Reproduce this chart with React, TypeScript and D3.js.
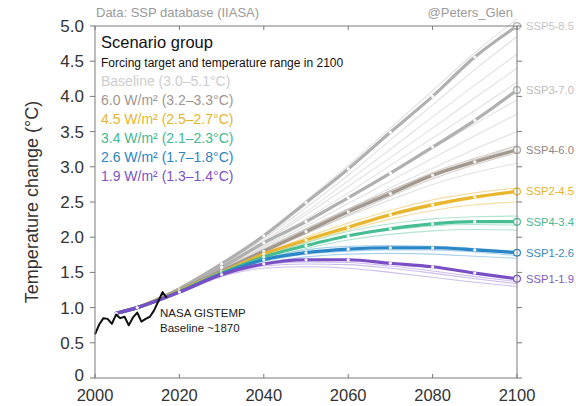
import * as d3 from "d3";

// model output years (decadal, plus start)
const years = [2005, 2010, 2020, 2030, 2040, 2050, 2060, 2070, 2080, 2090, 2100];

// marker scenarios (thick lines)
const ssp585 = [0.92, 1.0, 1.27, 1.62, 2.02, 2.49, 2.97, 3.49, 4.0, 4.56, 5.0];
const ssp370 = [0.92, 1.0, 1.26, 1.57, 1.92, 2.22, 2.56, 2.91, 3.28, 3.66, 4.09];
const ssp460 = [0.92, 1.0, 1.25, 1.52, 1.8, 2.08, 2.36, 2.62, 2.88, 3.07, 3.24];
const ssp245 = [0.92, 1.0, 1.24, 1.5, 1.76, 1.96, 2.14, 2.32, 2.46, 2.57, 2.65];
const ssp434 = [0.92, 1.0, 1.23, 1.49, 1.72, 1.88, 2.02, 2.12, 2.19, 2.22, 2.22];
const ssp126 = [0.92, 1.0, 1.22, 1.48, 1.68, 1.78, 1.83, 1.85, 1.85, 1.82, 1.78];
const ssp119 = [0.92, 1.0, 1.22, 1.47, 1.62, 1.68, 1.68, 1.63, 1.58, 1.49, 1.41];

// other runs in each group (thin lines)
const baselineRuns = [
  [0.92, 1.0, 1.28, 1.64, 2.04, 2.52, 3.02, 3.55, 4.08, 4.62, 5.1],
  [0.92, 1.0, 1.27, 1.61, 1.98, 2.42, 2.88, 3.38, 3.88, 4.38, 4.85],
  [0.92, 1.0, 1.27, 1.6, 1.95, 2.36, 2.8, 3.25, 3.71, 4.16, 4.6],
  [0.92, 1.0, 1.26, 1.59, 1.93, 2.32, 2.72, 3.13, 3.55, 3.98, 4.4],
  [0.92, 1.0, 1.26, 1.58, 1.9, 2.26, 2.63, 3.02, 3.41, 3.8, 4.2],
  [0.92, 1.0, 1.26, 1.57, 1.88, 2.2, 2.55, 2.9, 3.26, 3.61, 3.95],
  [0.92, 1.0, 1.25, 1.56, 1.86, 2.16, 2.48, 2.8, 3.12, 3.44, 3.75],
  [0.92, 1.0, 1.25, 1.55, 1.84, 2.12, 2.4, 2.7, 2.98, 3.25, 3.5],
  [0.92, 1.0, 1.25, 1.54, 1.82, 2.08, 2.35, 2.6, 2.86, 3.09, 3.3],
  [0.92, 1.0, 1.24, 1.53, 1.8, 2.05, 2.3, 2.53, 2.75, 2.92, 3.05],
];
const w60Runs = [
  [0.92, 1.0, 1.25, 1.53, 1.82, 2.1, 2.39, 2.66, 2.92, 3.12, 3.3],
  [0.92, 1.0, 1.24, 1.51, 1.78, 2.05, 2.32, 2.58, 2.83, 3.03, 3.2],
  [0.92, 1.0, 1.25, 1.54, 1.83, 2.12, 2.4, 2.66, 2.9, 3.1, 3.26],
];
const w45Runs = [
  [0.92, 1.0, 1.24, 1.5, 1.76, 2.0, 2.2, 2.38, 2.53, 2.63, 2.7],
  [0.92, 1.0, 1.23, 1.48, 1.72, 1.93, 2.1, 2.26, 2.38, 2.46, 2.5],
  [0.92, 1.0, 1.24, 1.51, 1.75, 1.97, 2.16, 2.34, 2.48, 2.58, 2.66],
];
const w34Runs = [
  [0.92, 1.0, 1.23, 1.49, 1.73, 1.92, 2.08, 2.19, 2.26, 2.29, 2.3],
  [0.92, 1.0, 1.22, 1.47, 1.68, 1.84, 1.96, 2.04, 2.09, 2.11, 2.1],
  [0.92, 1.0, 1.23, 1.5, 1.72, 1.88, 2.01, 2.1, 2.16, 2.18, 2.17],
];
const w26Runs = [
  [0.92, 1.0, 1.22, 1.47, 1.66, 1.76, 1.8, 1.82, 1.82, 1.79, 1.74],
  [0.92, 1.0, 1.23, 1.5, 1.7, 1.82, 1.87, 1.88, 1.87, 1.84, 1.8],
  [0.92, 1.0, 1.22, 1.46, 1.63, 1.72, 1.76, 1.77, 1.76, 1.73, 1.7],
];
const w19Runs = [
  [0.92, 1.0, 1.21, 1.44, 1.56, 1.58, 1.56, 1.5, 1.43, 1.36, 1.3],
  [0.92, 1.0, 1.22, 1.46, 1.61, 1.65, 1.64, 1.59, 1.52, 1.44, 1.37],
  [0.92, 1.0, 1.21, 1.45, 1.59, 1.62, 1.61, 1.56, 1.49, 1.41, 1.34],
];

// NASA GISTEMP, relative to ~1870
const obsYears = d3.range(2000, 2018);
const obsTemp = [0.62, 0.76, 0.85, 0.84, 0.77, 0.9, 0.85, 0.87, 0.75, 0.86, 0.93, 0.8, 0.84, 0.87, 0.96, 1.09, 1.22, 1.14];

const legendLabels = [
  "Baseline (3.0–5.1°C)",
  "6.0 W/m² (3.2–3.3°C)",
  "4.5 W/m² (2.5–2.7°C)",
  "3.4 W/m² (2.1–2.3°C)",
  "2.6 W/m² (1.7–1.8°C)",
  "1.9 W/m² (1.3–1.4°C)",
];
const legendColors = ["#cdcdcd", "#a0968e", "#e6b52e", "#45b88f", "#2d84c0", "#7b54c2"];

const markerNames = ["SSP5-8.5", "SSP3-7.0", "SSP4-6.0", "SSP2-4.5", "SSP4-3.4", "SSP1-2.6", "SSP1-1.9"];
const markerSeries = [ssp585, ssp370, ssp460, ssp245, ssp434, ssp126, ssp119];
const markerColors = ["#b0b0b0", "#b0b0b0", "#a2988f", "#e8b52c", "#47bd93", "#2a86c6", "#7a4ec4"];
const markerLabelColors = ["#c4c4c4", "#bcbcbc", "#8f877f", "#e3b22c", "#48b98f", "#3489c2", "#7d5bbf"];

const yTicks = [0, 0.5, 1, 1.5, 2, 2.5, 3, 3.5, 4, 4.5, 5];
const xTicks = [2000, 2020, 2040, 2060, 2080, 2100];

const font = "'Liberation Sans', Arial, Helvetica, sans-serif";

export default function App() {
  const W = 576;
  const H = 406;
  const x = d3.scaleLinear().domain([2000, 2100]).range([95, 517]);
  const y = d3.scaleLinear().domain([0, 5]).range([378, 26]);

  const line = d3
    .line<number>()
    .x((_, i) => x(years[i]))
    .y((d) => y(d))
    .curve(d3.curveMonotoneX);

  const obsLine = d3
    .line<number>()
    .x((_, i) => x(obsYears[i]))
    .y((d) => y(d));

  const thinGroups = [
    { runs: baselineRuns, color: "#c8c8c8", op: 0.55 },
    { runs: w60Runs, color: "#b9afa7", op: 0.6 },
    { runs: w45Runs, color: "#efcf7a", op: 0.7 },
    { runs: w34Runs, color: "#92d9bd", op: 0.7 },
    { runs: w26Runs, color: "#86bfe3", op: 0.7 },
    { runs: w19Runs, color: "#b9a3e2", op: 0.7 },
  ];

  const axisColor = "#7a7a7a";

  return (
    <svg
      width={W}
      height={H}
      style={{ position: "absolute", left: 0, top: 0, background: "#fff" }}
      fontFamily={font}
    >
      {/* header */}
      <text x={96} y={17} fontSize={13} fill="#9a9a9a">
        Data: SSP database (IIASA)
      </text>
      <text x={513} y={17} fontSize={13} fill="#9a9a9a" textAnchor="end">
        @Peters_Glen
      </text>

      {/* thin runs */}
      {thinGroups.map((g, gi) =>
        g.runs.map((r, ri) => (
          <path
            key={`t${gi}-${ri}`}
            d={line(r) || ""}
            fill="none"
            stroke={g.color}
            strokeWidth={1.1}
            strokeOpacity={g.op}
          />
        ))
      )}

      {/* marker scenarios */}
      {markerSeries.map((s, si) => (
        <g key={`m${si}`}>
          <path
            d={line(s) || ""}
            fill="none"
            stroke={markerColors[si]}
            strokeWidth={3.2}
            strokeLinecap="round"
          />
          {s.slice(0, -1).map((v, i) => (
            <circle key={i} cx={x(years[i])} cy={y(v)} r={1.6} fill="#fff" fillOpacity={0.95} />
          ))}
          <circle
            cx={x(2100)}
            cy={y(s[s.length - 1])}
            r={3.4}
            fill="#fff"
            stroke={markerColors[si]}
            strokeWidth={1.2}
          />
          <text
            x={526}
            y={y(s[s.length - 1])}
            dy="0.35em"
            fontSize={11.2}
            fill={markerLabelColors[si]}
          >
            {markerNames[si]}
          </text>
        </g>
      ))}

      {/* observations */}
      <path d={obsLine(obsTemp) || ""} fill="none" stroke="#111" strokeWidth={2} strokeLinejoin="round" />
      <text x={160} y={317} fontSize={11.5} fill="#222">
        NASA GISTEMP
      </text>
      <text x={160} y={332} fontSize={11.5} fill="#222">
        Baseline ~1870
      </text>

      {/* frame */}
      <rect x={95} y={26} width={422} height={352} fill="none" stroke={axisColor} strokeWidth={1} />

      {/* y axis */}
      {yTicks.map((t) => (
        <g key={`y${t}`}>
          <line x1={90} x2={95} y1={y(t)} y2={y(t)} stroke={axisColor} />
          <line x1={517} x2={522} y1={y(t)} y2={y(t)} stroke={axisColor} />
          <text x={84} y={y(t)} dy={t === 0 ? "0.2em" : "0.35em"} fontSize={17} fill="#333" textAnchor="end">
            {t === 0 ? "0" : t.toFixed(1)}
          </text>
        </g>
      ))}
      <text
        transform={`translate(32,${(y(0) + y(5)) / 2}) rotate(-90)`}
        fontSize={18}
        fill="#333"
        textAnchor="middle"
        dy="0.35em"
      >
        Temperature change (°C)
      </text>

      {/* x axis */}
      {xTicks.map((t) => (
        <g key={`x${t}`}>
          <line x1={x(t)} x2={x(t)} y1={378} y2={374} stroke={axisColor} />
          <line x1={x(t)} x2={x(t)} y1={26} y2={30} stroke={axisColor} />
          <text x={x(t)} y={401} fontSize={16.5} fill="#333" textAnchor="middle">
            {t}
          </text>
        </g>
      ))}

      {/* legend */}
      <text x={101} y={48} fontSize={16.5} fill="#111">
        Scenario group
      </text>
      <text x={101} y={67} fontSize={12} fill="#111" fontWeight={500}>
        Forcing target and temperature range in 2100
      </text>
      {legendLabels.map((l, i) => (
        <text key={l} x={101} y={85.5 + i * 19} fontSize={14} fill={legendColors[i]}>
          {l}
        </text>
      ))}
    </svg>
  );
}
